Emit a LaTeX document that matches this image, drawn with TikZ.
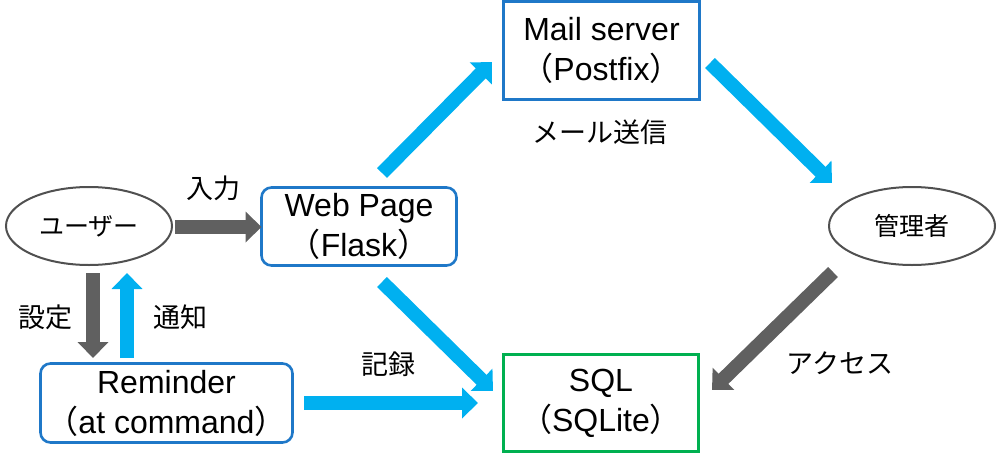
\documentclass[tikz,border=0pt]{standalone}
\usepackage{fontspec}
\setmainfont{Liberation Sans}
\newfontfamily\cjk{Noto Sans CJK JP}
\usetikzlibrary{arrows.meta,shapes.geometric}
\definecolor{boxblue}{HTML}{1F78C8}
\definecolor{arrblue}{HTML}{00B0F0}
\definecolor{arrgray}{HTML}{606060}
\definecolor{ellgray}{HTML}{505050}
\definecolor{sqlgreen}{HTML}{00B050}
\begin{document}
\begin{tikzpicture}[x=1pt,y=-1pt,
  every node/.style={inner sep=0pt,outer sep=0pt},
  txt/.style={font=\fontsize{32}{40}\selectfont,align=center},
  jlabel/.style={font=\cjk\fontsize{27}{30}\selectfont},
  rbox/.style={draw=boxblue,line width=2.6pt,rounded corners=10pt,txt},
  sbox/.style={draw=boxblue,line width=2.6pt,txt},
  gbox/.style={draw=sqlgreen,line width=2.6pt,txt},
  ell/.style={ellipse,draw=ellgray,line width=2pt,font=\cjk\fontsize{25}{30}\selectfont},
  barrow/.style={draw=arrblue,line width=14pt,-{Triangle[width=30pt,length=16pt]},color=arrblue},
  garrow/.style={draw=arrgray,line width=14pt,-{Triangle[width=30pt,length=16pt]},color=arrgray}
]
\useasboundingbox (0,0) rectangle (1000,463);

% nodes
\node[ell,minimum width=166pt,minimum height=78pt] (user) at (89,226) {ユーザー};
\node[ell,minimum width=166pt,minimum height=78pt] (admin) at (912,226) {管理者};
\node[rbox,minimum width=195pt,minimum height=78pt] (web) at (359,226.5) {Web Page\\{\cjk （}Flask{\cjk ）}};
\node[rbox,minimum width=252pt,minimum height=79pt] (rem) at (166.5,403) {Reminder\\{\cjk （}at command{\cjk ）}};
\node[sbox,minimum width=196pt,minimum height=98pt] (mail) at (601.5,50.5) {Mail server\\{\cjk （}Postfix{\cjk ）}};
\node[gbox,minimum width=195pt,minimum height=97pt] (sql) at (601,403) {SQL\\{\cjk （}SQLite{\cjk ）}};

% connector end points
\coordinate (wm1) at (382,173);
\coordinate (wm2) at (492,62);
\coordinate (ma1) at (710,63);
\coordinate (ma2) at (832,183);
\coordinate (ws1) at (382,282);
\coordinate (ws2) at (493,391);
\coordinate (as1) at (833,272);
\coordinate (as2) at (712,390);
\coordinate (sd1) at (93,273);
\coordinate (sd2) at (93,358);
\coordinate (tc1) at (127,358);
\coordinate (tc2) at (127,273);
\coordinate (rs1) at (304,403);
\coordinate (rs2) at (478,403);

% connectors
\draw[garrow] (user.east) ++(3,1) -- (web.west |- 0,227);
\draw[garrow] (sd1) -- (sd2);
\draw[barrow] (tc1) -- (tc2);
\draw[barrow] (rs1) -- (rs2);
\draw[barrow] (wm1) -- (wm2);
\draw[barrow] (ma1) -- (ma2);
\draw[barrow] (ws1) -- (ws2);
\draw[garrow] (as1) -- (as2);

% labels
\node[jlabel] (l1) at (213,188) {入力};
\node[jlabel] (l2) at (45,317) {設定};
\node[jlabel] (l3) at (180,317) {通知};
\node[jlabel] (l4) at (388,364) {記録};
\node[jlabel] (l5) at (600,132) {メール送信};
\node[jlabel] (l6) at (840,363) {アクセス};
\end{tikzpicture}
\end{document}
